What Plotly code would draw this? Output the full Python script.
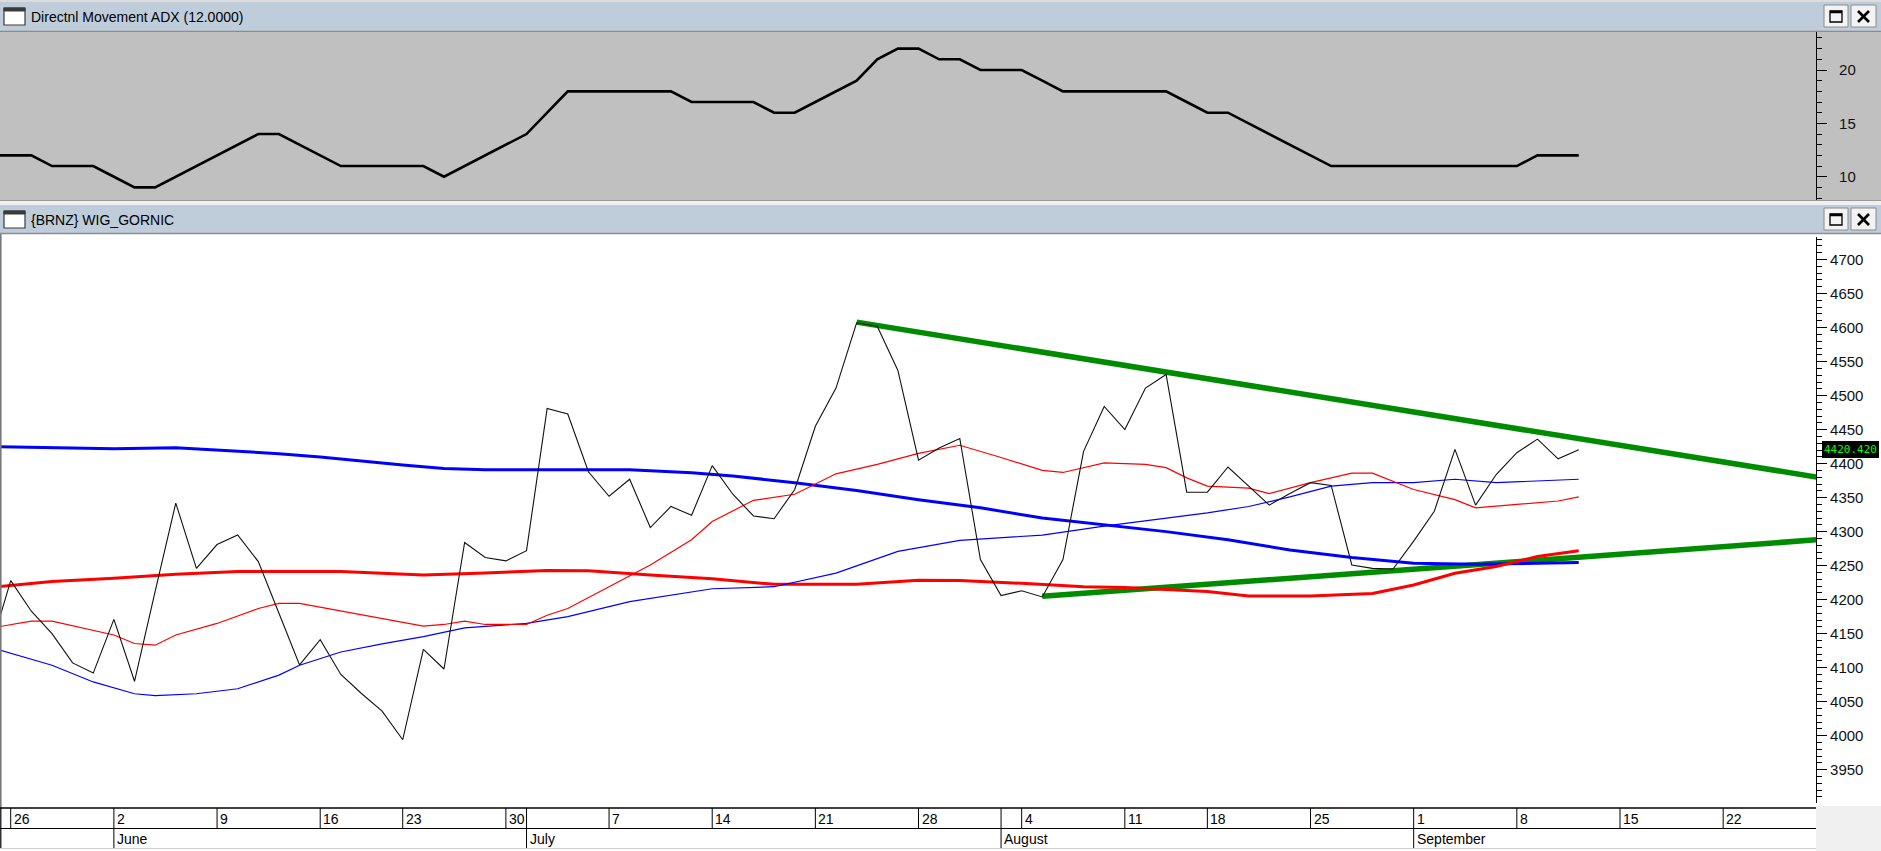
import plotly.graph_objects as go
import pandas as pd

W, H = 1881, 851

# ---------------- data ----------------
holidays = ["2014-06-19", "2014-08-15"]
days = [d.strftime("%Y-%m-%d") for d in pd.bdate_range("2014-05-23", "2014-09-30")]
days = [d for d in days if d not in holidays]

# daily close, 2014-05-23 .. 2014-09-11
price = [4126, 4228, 4183, 4150, 4107, 4092, 4171, 4080, 4212, 4342, 4246, 4281, 4295, 4256,
         4180, 4104, 4141, 4090, 4062, 4036, 3994, 4127, 4098, 4284, 4262, 4257, 4272, 4481,
         4473, 4388, 4352, 4377, 4306, 4337, 4324, 4397, 4355, 4323, 4319, 4362, 4455, 4511,
         4607, 4602, 4537, 4405, 4423, 4437, 4259, 4206, 4213, 4204, 4259, 4418, 4484, 4450,
         4511, 4531, 4358, 4358, 4395, 4367, 4339, 4356, 4372, 4368, 4251, 4246, 4245, 4286,
         4330, 4421, 4339, 4384, 4416, 4436, 4407, 4420.42]

# ADX(12), same dates
adx = [12, 12, 12, 11, 11, 11, 10, 9, 9, 10, 11, 12, 13, 14, 14, 13, 12, 11, 11, 11, 11, 11,
       10, 11, 12, 13, 14, 16, 18, 18, 18, 18, 18, 18, 17, 17, 17, 17, 16, 16, 17, 18, 19, 21,
       22, 22, 21, 21, 20, 20, 20, 19, 18, 18, 18, 18, 18, 18, 17, 16, 16, 15, 14, 13, 12, 11,
       11, 11, 11, 11, 11, 11, 11, 11, 11, 12, 12, 12]

# moving averages, sampled at trading-day positions (index into days)
ma_fast_pos = [0, 2, 3, 5, 6, 7, 8, 9, 11, 13, 14, 15, 17, 19, 21, 22, 23, 24, 26, 27, 28, 30,
               32, 34, 35, 37, 39, 41, 43, 45, 47, 49, 51, 52, 54, 56, 57, 58, 59, 61, 62, 64,
               66, 67, 68, 69, 71, 72, 74, 76, 77]
ma_fast = [4158, 4168.5, 4168.5, 4155, 4148, 4135.5, 4133, 4148, 4165, 4187, 4194.5, 4194.5,
           4183.5, 4171.5, 4161, 4163.5, 4168.5, 4163.5, 4163.5, 4177, 4187, 4219, 4251, 4288,
           4315, 4346, 4355, 4385, 4399, 4415, 4427, 4409, 4390, 4387, 4401, 4399, 4394, 4379,
           4367, 4364, 4356, 4372, 4386, 4386, 4374, 4362, 4347, 4335, 4340, 4345, 4351]

ma_mid_pos = [0, 3, 5, 7, 8, 10, 12, 14, 15, 17, 19, 21, 23, 25, 26, 28, 31, 35, 38, 41, 44,
              47, 51, 54, 57, 59, 61, 63, 65, 67, 69, 71, 73, 75, 77]
ma_mid = [4130, 4103.5, 4079, 4061.6, 4059, 4061.6, 4069, 4089, 4103.5, 4123, 4135, 4145.5,
          4158.6, 4163.5, 4165, 4175, 4197, 4216, 4219, 4239, 4271, 4287, 4295, 4308, 4320,
          4327.5, 4337, 4351, 4367, 4372, 4372, 4377, 4372, 4374, 4377]

ma_slow_pos = [0, 3, 6, 9, 12, 17, 21, 24, 27, 29, 32, 35, 38, 42, 45, 47, 50, 53, 55, 59, 61,
               64, 67, 69, 71, 73, 75, 77]
ma_slow = [4218, 4226.6, 4231.5, 4237.5, 4241.4, 4241.4, 4236.4, 4239, 4243, 4242.4, 4236.4,
           4230.6, 4222.6, 4222.6, 4228.5, 4228, 4224, 4219, 4217.7, 4211.8, 4205.5, 4205.5,
           4209, 4221.6, 4238.8, 4248.7, 4263.5, 4272]

ma_long_pos = [0, 6, 9, 12, 14, 16, 18, 20, 22, 24, 28, 31, 34, 36, 39, 42, 45, 48, 51, 54, 57,
               60, 63, 66, 69, 72, 77]
ma_long = [4425, 4422, 4423.5, 4418.6, 4414.6, 4409.8, 4403.8, 4398, 4393, 4391, 4391, 4391,
           4386.6, 4381.7, 4372, 4360.5, 4347, 4335, 4320, 4310, 4300, 4288, 4273, 4262, 4253.6,
           4252, 4254.7]

# hand-drawn trend lines
trend_upper_dates = ["2014-07-23", "2014-09-29"]
trend_upper = [4608, 4378]
trend_lower_dates = ["2014-08-05", "2014-09-29"]
trend_lower = [4205, 4289]

month_names = {6: "June", 7: "July", 8: "August", 9: "September"}
last_label = "4420.420"
adx_title = "Directnl Movement ADX (12.0000)"
main_title = "{BRNZ} WIG_GORNIC"

# ---------------- geometry helpers ----------------
X_END = 1816          # right edge of plot area (px)
X_RANGE = [0.48, 88.5]


def py(y):
    return 1 - y / H


def px(x):
    return x / W


fig = go.Figure()


def add_line(x, y, color, width, xa="x", ya="y"):
    fig.add_trace(go.Scatter(x=x, y=y, mode="lines", line=dict(color=color, width=width),
                             xaxis=xa, yaxis=ya, hoverinfo="skip", showlegend=False))


# ADX panel
add_line(days[:len(adx)], adx, "black", 2.6, "x2", "y2")

# main panel
add_line(trend_upper_dates, trend_upper, "#008c00", 5.5)
add_line(trend_lower_dates, trend_lower, "#008c00", 5.5)
add_line([days[p] for p in ma_long_pos], ma_long, "#0000ff", 3)
add_line([days[p] for p in ma_slow_pos], ma_slow, "#ff0000", 3)
add_line([days[p] for p in ma_mid_pos], ma_mid, "#0000ff", 1.2)
add_line([days[p] for p in ma_fast_pos], ma_fast, "#ff0000", 1.2)
add_line(days[:len(price)], price, "#111111", 1.1)

shapes = []
annotations = []


def rect(x0, y0, x1, y1, fill, line_color=None, lw=0):
    shapes.append(dict(type="rect", xref="paper", yref="paper", x0=px(x0), x1=px(x1),
                       y0=py(y1), y1=py(y0), fillcolor=fill, layer="below",
                       line=dict(color=line_color or fill, width=lw)))


def hline(x0, x1, y, color, lw=1, layer="below"):
    shapes.append(dict(type="line", xref="paper", yref="paper", x0=px(x0), x1=px(x1),
                       y0=py(y), y1=py(y), line=dict(color=color, width=lw), layer=layer))


def title_bar(y0, y1, text):
    rect(0, y0, W, y1, "#bfcddb")
    hline(0, W, y1 + 0.5, "#8c8c8c", 1.5)
    # window icon
    rect(4, y0 + 6, 25, y0 + 23, "white", "#3a3a3a", 1.2)
    rect(4, y0 + 6, 25, y0 + 9, "#3a3a3a", "#3a3a3a", 1)
    annotations.append(dict(text=text, xref="paper", yref="paper", x=px(29), y=py((y0 + y1) / 2 + 0.5),
                            xanchor="left", yanchor="middle", showarrow=False,
                            font=dict(family="Liberation Sans, Arial", size=14, color="black")))
    # buttons
    for bx0, bx1 in [(1824, 1848), (1851, 1876)]:
        rect(bx0, y0 + 3, bx1, y0 + 25, "#f3f3f3", "#8a8a8a", 1)
    shapes.append(dict(type="rect", xref="paper", yref="paper", x0=px(1830), x1=px(1842),
                       y0=py(y0 + 20), y1=py(y0 + 9), line=dict(color="black", width=1.3),
                       fillcolor="rgba(0,0,0,0)", layer="above"))
    hline(1830, 1842, y0 + 10, "black", 2.5, "above")
    for (a, b) in [((1858, y0 + 9), (1869, y0 + 20)), ((1858, y0 + 20), (1869, y0 + 9))]:
        shapes.append(dict(type="line", xref="paper", yref="paper", x0=px(a[0]), y0=py(a[1]),
                           x1=px(b[0]), y1=py(b[1]), line=dict(color="black", width=2.6),
                           layer="above"))


# frame pieces
rect(0, 0, W, 2, "#dcdcdc")
title_bar(2, 31, adx_title)
rect(0, 32, W, 200, "#c0c0c0")
rect(0, 200, W, 205, "#f0f0f0")
hline(0, W, 200.5, "#9a9a9a", 1)
title_bar(205, 233, main_title)
shapes.append(dict(type="line", xref="paper", yref="paper", x0=px(0.8), x1=px(0.8), y0=py(808),
                   y1=py(234), line=dict(color="#7a7a7a", width=1.6), layer="above"))

# date table
rect(X_END, 806, W, H, "#f0f0f0")
hline(0, X_END, 808, "black", 1.6, "above")
hline(0, X_END, 828.5, "black", 1, "above")
hline(0, X_END, 848.5, "#cfcfcf", 1, "above")
label_font = dict(family="Liberation Sans, Arial", size=14, color="black")
for k in range(1, len(days)):
    if k > X_RANGE[1]:
        break
    d = pd.Timestamp(days[k])
    prev = pd.Timestamp(days[k - 1])
    week_start = d.isocalendar()[1] != prev.isocalendar()[1]
    month_start = d.month != prev.month
    if not (week_start or month_start):
        continue
    y_bottom = 848 if month_start else 828
    shapes.append(dict(type="line", xref="x", yref="paper", x0=days[k], x1=days[k],
                       y0=py(y_bottom), y1=py(808), line=dict(color="black", width=1),
                       layer="above"))
    if week_start:
        annotations.append(dict(text=str(d.day), xref="x", yref="paper", x=days[k], y=py(818.5),
                                xanchor="left", yanchor="middle", xshift=1, showarrow=False,
                                font=label_font))
    if month_start:
        annotations.append(dict(text=month_names[d.month], xref="x", yref="paper", x=days[k],
                                y=py(838.5), xanchor="left", yanchor="middle", xshift=1,
                                showarrow=False, font=label_font))
shapes.append(dict(type="line", xref="paper", yref="paper", x0=px(0.8), x1=px(0.8), y0=py(848),
                   y1=py(808), line=dict(color="black", width=1.2), layer="above"))

# last value tag
annotations.append(dict(text=last_label, xref="paper", yref="y", x=px(1879), y=price[-1],
                        xanchor="right", yanchor="middle", showarrow=False, bgcolor="black",
                        borderpad=2, borderwidth=0,
                        font=dict(family="DejaVu Sans Mono, monospace", size=11, color="#00ff00")))

tickfont = dict(family="Liberation Sans, Arial", size=15, color="#111111")
yaxis_common = dict(side="right", ticks="outside", ticklen=10, tickwidth=1, tickcolor="black",
                    showline=True, linecolor="black", linewidth=1.2, showgrid=False,
                    zeroline=False, tickfont=tickfont, fixedrange=True)

fig.update_layout(
    width=W, height=H, margin=dict(l=0, r=0, t=0, b=0),
    paper_bgcolor="white", plot_bgcolor="white", showlegend=False,
    xaxis=dict(domain=[0, px(X_END)], type="category", categoryorder="array",
               categoryarray=days, range=X_RANGE, showticklabels=False, ticks="",
               showgrid=False, zeroline=False, showline=False, anchor="y", fixedrange=True),
    yaxis=dict(domain=[py(803), py(237)], range=[3901, 4733.2], dtick=50, tick0=0,
               ticklabelstandoff=0,
               minor=dict(dtick=10, tick0=0, ticks="outside", ticklen=5, tickcolor="black",
                          showgrid=False),
               anchor="x", **yaxis_common),
    xaxis2=dict(domain=[0, px(X_END)], type="category", categoryorder="array",
                categoryarray=days, matches="x", showticklabels=False, ticks="",
                showgrid=False, zeroline=False, showline=False, anchor="y2", fixedrange=True),
    yaxis2=dict(domain=[py(200), py(32)], range=[7.82, 23.56], dtick=5, tick0=0,
                ticklabelstandoff=9,
                minor=dict(dtick=1, tick0=0, ticks="outside", ticklen=5, tickcolor="black",
                           showgrid=False),
                anchor="x2", **yaxis_common),
    shapes=shapes, annotations=annotations,
)

fig.write_html(
    "out.html",
    config={"displayModeBar": False},
    post_script=("document.body.style.margin='0px';document.body.style.padding='0px';"
                 "document.documentElement.style.overflow='hidden';"),
)
